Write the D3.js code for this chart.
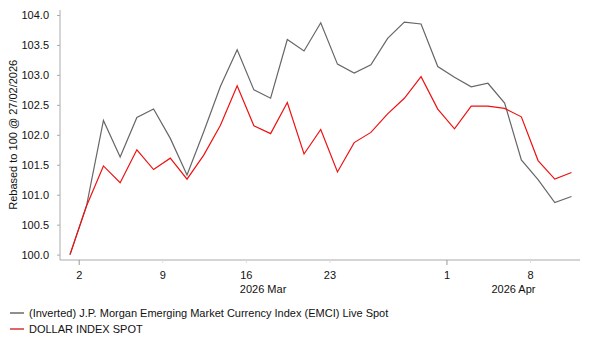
<!DOCTYPE html>
<html>
<head>
<meta charset="utf-8">
<script src="https://cdn.jsdelivr.net/npm/d3@7"></script>
<style>
  body { margin: 0; background: #fff; }
  svg { display: block; font-family: "Liberation Sans", Arial, sans-serif; }
</style>
</head>
<body>
<svg width="593" height="350"></svg>
<script>
// trading days, 27 Feb 2026 .. 10 Apr 2026
const dates = ["2026-02-27",
  "2026-03-02","2026-03-03","2026-03-04","2026-03-05","2026-03-06",
  "2026-03-09","2026-03-10","2026-03-11","2026-03-12","2026-03-13",
  "2026-03-16","2026-03-17","2026-03-18","2026-03-19","2026-03-20",
  "2026-03-23","2026-03-24","2026-03-25","2026-03-26","2026-03-27",
  "2026-03-30","2026-03-31","2026-04-01","2026-04-02","2026-04-03",
  "2026-04-06","2026-04-07","2026-04-08","2026-04-09","2026-04-10"];

const emci = [100.00, 100.83, 102.24, 101.63, 102.29, 102.43, 101.94, 101.33, 102.05, 102.81,
  103.42, 102.75, 102.61, 103.59, 103.40, 103.87, 103.18, 103.03, 103.17, 103.61,
  103.88, 103.85, 103.14, 102.96, 102.80, 102.86, 102.53, 101.58, 101.25, 100.87, 100.97];

const dxy = [100.00, 100.82, 101.48, 101.20, 101.75, 101.42, 101.61, 101.26, 101.66, 102.16,
  102.82, 102.15, 102.02, 102.54, 101.68, 102.09, 101.38, 101.87, 102.04, 102.35,
  102.61, 102.97, 102.43, 102.10, 102.48, 102.48, 102.44, 102.30, 101.57, 101.26, 101.37];

const yTicks = [100.0, 100.5, 101.0, 101.5, 102.0, 102.5, 103.0, 103.5, 104.0];
const dayTicks = ["2026-03-02","2026-03-09","2026-03-16","2026-03-23","2026-04-01","2026-04-08"];
const monthStarts = ["2026-03-02","2026-04-01"];
const monthLabels = ["2026 Mar","2026 Apr"];

const seriesNames = ["(Inverted) J.P. Morgan Emerging Market Currency Index (EMCI) Live Spot", "DOLLAR INDEX SPOT"];
const seriesColors = ["#666666", "#ee1111"];
const legendColors = ["#444444", "#cc0000"];

const svg = d3.select("svg");
const plotLeft = 60, plotRight = 580, plotTop = 10, plotBottom = 260;

const x = d3.scaleLinear().domain([0, dates.length - 1]).range([70, 571.5]);
const y = d3.scaleLinear().domain([100, 104]).range([254.6, 15]);
const step = x(1) - x(0);
const tickX = d => x(dates.indexOf(d)) - step * 0.45;

// y axis
const yAxis = svg.append("g")
  .attr("transform", `translate(${plotLeft},0)`)
  .call(d3.axisLeft(y).tickValues(yTicks).tickFormat(d3.format(".1f")).tickSize(3).tickPadding(8));
yAxis.select(".domain").attr("stroke", "#aaa").attr("d", `M0,${plotTop}V${plotBottom}`);
yAxis.selectAll(".tick line").attr("stroke", "#aaa");
yAxis.selectAll(".tick text").attr("font-size", 11).attr("fill", "#111")
  .attr("font-family", "Liberation Sans, Arial, sans-serif");

svg.append("text")
  .attr("transform", `translate(17,${(15 + 254.6) / 2}) rotate(-90)`)
  .attr("text-anchor", "middle")
  .attr("font-size", 11)
  .attr("fill", "#111")
  .text("Rebased to 100 @ 27/02/2026");

// x axis
const xg = svg.append("g");
xg.append("line")
  .attr("x1", plotLeft).attr("x2", plotRight)
  .attr("y1", plotBottom).attr("y2", plotBottom)
  .attr("stroke", "#aaa");

xg.selectAll("line.tk").data(dayTicks).join("line")
  .attr("class", "tk")
  .attr("x1", tickX).attr("x2", tickX)
  .attr("y1", plotBottom)
  .attr("y2", d => monthStarts.includes(d) ? plotBottom + 5 : plotBottom + 3)
  .attr("stroke", d => monthStarts.includes(d) ? "#999" : "#ddd");

xg.selectAll("text.day").data(dayTicks).join("text")
  .attr("class", "day")
  .attr("x", tickX)
  .attr("y", 279)
  .attr("text-anchor", "middle")
  .attr("font-size", 11)
  .attr("fill", "#111")
  .text(d => +d.slice(8));

xg.selectAll("text.month").data(monthLabels).join("text")
  .attr("class", "month")
  .attr("x", (d, i) => {
    const a = tickX(monthStarts[i]);
    const b = i + 1 < monthStarts.length ? tickX(monthStarts[i + 1]) : plotRight;
    return (a + b) / 2;
  })
  .attr("y", 293)
  .attr("text-anchor", "middle")
  .attr("font-size", 11)
  .attr("fill", "#111")
  .text(d => d);

// lines
const line = d3.line().x((d, i) => x(i)).y(d => y(d));
[emci, dxy].forEach((s, k) => {
  svg.append("path")
    .datum(s)
    .attr("fill", "none")
    .attr("stroke", seriesColors[k])
    .attr("stroke-width", 1.2)
    .attr("d", line);
});

// legend
const lg = svg.append("g").selectAll("g").data(seriesNames).join("g")
  .attr("transform", (d, i) => `translate(10,${313 + i * 16})`);
lg.append("line")
  .attr("x1", 0).attr("x2", 14)
  .attr("stroke", (d, i) => legendColors[i])
  .attr("stroke-width", 1.2);
lg.append("text")
  .attr("x", 19).attr("y", 4)
  .attr("font-size", 11)
  .attr("fill", "#111")
  .text(d => d);
</script>
</body>
</html>
